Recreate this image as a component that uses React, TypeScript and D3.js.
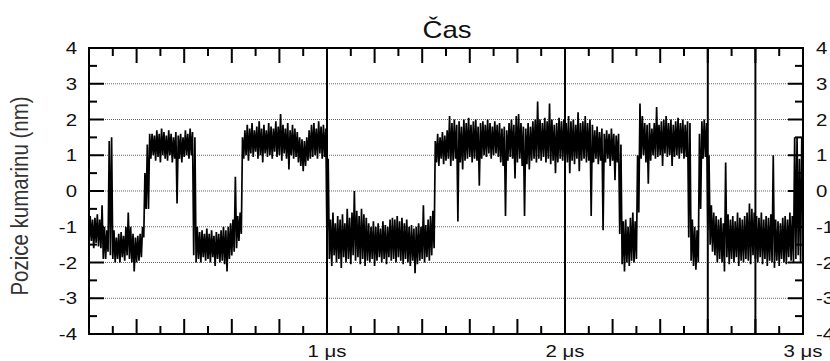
import React from "react";
import * as d3 from "d3";

// time bins (µs), width 0.01 µs; lo/hi = min/max of the position in each bin (nm)
const binStep = 0.01;
const lo = [
  -1.5, -1.4, -1.6, -1.45, -1.55, -1.6, -1.9, -1.9, -1.7, -1.8,
  -1.9, -2.0, -1.9, -2.0, -1.85, -1.95, -1.8, -1.9, -2.0, -2.25,
  -2.0, -1.95, -1.85, -1.3, -0.5, -0.5, 0.9, 1.0, 0.85, 0.95,
  0.8, 1.0, 0.9, 0.85, 1.0, 0.8, 0.9, -0.35, 0.9, 0.8,
  0.95, 1.0, 0.9, 1.0, -1.8, -2.0, -1.9, -2.0, -1.85, -1.95,
  -1.9, -2.0, -1.85, -2.1, -1.9, -2.0, -1.95, -2.05, -2.25, -1.9,
  -1.8, -1.7, -1.6, -1.4, -1.2, 0.9, 1.0, 0.85, 1.05, 0.95,
  1.1, 0.9, 1.0, 0.8, 1.05, 0.95, 1.0, 0.9, 1.1, 0.95,
  1.0, 0.85, 1.05, 0.9, 0.6, 1.0, 0.9, 0.95, 0.8, 0.7,
  0.55, 0.7, 0.85, 0.9, 0.95, 1.0, 0.9, 1.05, 0.9, 0.95,
  -1.5, -1.9, -2.1, -1.8, -2.0, -1.9, -2.15, -1.85, -2.0, -1.9,
  -2.05, -1.8, -1.95, -1.85, -2.05, -1.9, -2.1, -1.95, -2.0, -1.9,
  -2.1, -1.95, -1.85, -2.0, -1.9, -2.05, -1.85, -1.95, -1.9, -2.0,
  -1.85, -1.95, -2.05, -1.9, -2.0, -2.1, -1.95, -2.3, -2.05, -1.95,
  -1.9, -2.0, -1.85, -1.95, -1.8, -1.6, 0.8, 0.7, 0.9, 0.75,
  0.85, 0.9, 0.7, 0.85, 0.9, -0.85, 0.8, 0.6, 0.85, 0.9,
  0.95, 0.8, 0.9, 0.85, 0.15, 0.9, 1.0, 0.95, 1.05, 0.9,
  1.0, 1.05, 0.95, 0.8, 0.7, -0.7, 0.85, 0.95, 0.9, 0.35,
  0.8, 0.9, 0.7, -0.7, 0.75, 0.6, 0.85, 0.9, 0.8, 0.9,
  0.85, 0.95, 0.8, 0.9, 0.75, 0.85, 0.5, 0.8, 0.9, 0.85,
  0.7, 0.8, 0.5, 0.85, 0.75, 0.9, 0.55, 0.85, 0.9, 0.8,
  0.85, -0.7, 0.8, 0.9, 0.75, 0.85, -1.1, 0.8, 0.9, 0.7,
  0.85, 0.3, 0.8, -1.2, -2.05, -2.25, -2.0, -2.1, -1.95, -2.0,
  -1.9, -0.6, 0.9, 1.0, 0.8, 0.2, 0.85, 1.0, 0.9, 0.95,
  1.0, 0.7, 1.05, 0.95, 1.0, 0.7, 0.95, 1.0, 0.9, 1.05,
  0.9, 0.95, -1.3, -1.95, -2.1, -2.2, -2.0, -0.5, 0.9, 0.95,
  -1.1, -1.5, -1.7, -1.8, -2.0, -1.9, -2.0, -2.25, -1.85, -2.05,
  -1.9, -2.0, -1.85, -2.1, -1.95, -2.0, -1.9, -1.95, -2.05, -1.8,
  -1.9, -2.0, -1.85, -2.05, -1.9, -2.1, -1.95, -2.0, -2.15, -1.95,
  -2.1, -1.9, -2.0, -2.05, -1.85, -1.95, -2.0, -1.9, -1.8, -2.0,
];
const hi = [
  -0.7, -0.8, -0.75, -0.65, -0.8, -0.4, -1.0, -1.1, 1.4, 1.5,
  -1.1, -1.3, -1.2, -1.15, -1.25, -1.0, -0.6, -1.0, -1.2, -1.3,
  -1.25, -1.2, -1.0, 0.5, 1.3, 1.6, 1.6, 1.55, 1.7, 1.6,
  1.75, 1.65, 1.55, 1.7, 1.6, 1.5, 1.65, 1.55, 1.6, 1.5,
  1.7, 1.6, 1.75, 1.65, 1.5, -1.0, -1.15, -1.1, -1.2, -1.05,
  -1.2, -1.1, -1.25, -1.15, -1.2, -1.1, -1.0, -1.1, -1.0, -0.9,
  -0.8, 0.4, -0.7, -0.6, 1.5, 1.7, 1.85, 1.75, 1.9, 1.7,
  1.8, 1.95, 1.75, 1.85, 1.7, 1.9, 1.8, 1.75, 1.95, 1.8,
  2.15, 1.85, 1.75, 1.9, 1.7, 1.85, 1.75, 1.65, 1.5, 1.45,
  1.4, 1.5, 1.7, 1.85, 1.9, 1.75, 1.95, 1.8, 1.85, 1.75,
  0.9, -0.8, -0.6, -0.9, -0.7, -0.8, -0.65, -0.9, -0.5, -0.75,
  -0.6, 0.0, -0.55, -0.7, -0.5, -0.65, -0.75, -0.9, -1.0, -0.85,
  -1.0, -0.9, -1.05, -0.85, -0.95, -1.0, -0.8, -0.75, -0.8, -0.7,
  -0.85, -0.75, -0.9, -0.8, -1.0, -0.95, -1.05, -1.0, -0.9, -1.0,
  -0.4, -0.95, -0.8, -0.7, -0.55, 1.4, 1.6, 1.5, 1.65, 1.55,
  1.7, 2.1, 1.9, 2.0, 1.85, 1.95, 1.8, 2.0, 1.9, 2.05,
  1.85, 1.95, 2.0, 1.8, 1.9, 1.95, 1.85, 2.0, 1.9, 1.8,
  1.95, 1.85, 1.9, 1.75, 1.8, 1.7, 1.9, 2.0, 1.85, 2.1,
  2.15, 1.9, 1.8, 1.75, 1.9, 1.8, 1.95, 2.0, 2.5, 2.0,
  1.9, 2.05, 1.95, 2.45, 2.0, 1.85, 1.9, 2.05, 1.95, 2.0,
  1.9, 2.1, 1.95, 2.0, 1.85, 2.2, 1.9, 1.95, 2.1, 1.9,
  2.0, 1.85, 1.7, 1.8, 1.65, 1.75, 1.6, 1.7, 1.6, 1.75,
  1.6, 1.55, 1.6, 1.3, -0.85, -0.8, -1.0, -0.75, -0.6, -0.85,
  1.0, 2.45, 2.1, 1.9, 1.85, 1.9, 1.75, 1.9, 2.35, 1.85,
  1.95, 2.0, 2.1, 1.9, 2.0, 1.85, 1.95, 2.05, 1.9, 2.0,
  1.85, 1.95, 1.9, -0.8, -1.0, -1.1, 1.6, 1.95, 2.0, 1.9,
  1.0, -0.4, -0.6, -0.7, -0.8, -0.75, -0.9, 0.8, -0.65, -0.8,
  -0.7, -0.85, -0.6, -0.75, -0.8, -0.7, -0.6, -0.35, -0.5, -0.6,
  -0.7, -0.75, -0.6, -0.8, -0.7, -0.75, -0.65, 1.0, -0.8, -0.85,
  -0.9, -0.75, -0.7, -0.8, -0.6, -0.7, 1.5, 1.5, 0.9, 1.5,
];

const segmentBreaks = [1, 2, 2.6, 2.8];
const xTickLabels = [
  { t: 1, label: "1 μs" },
  { t: 2, label: "2 μs" },
  { t: 3, label: "3 μs" },
];
const yTickValues = [-4, -3, -2, -1, 0, 1, 2, 3, 4];
const gridValues = [-3, -2, -1, 0, 1, 2, 3];
const titleText = "Čas";
const yLabelText = "Pozice kumarinu (nm)";

const W = 830;
const H = 361;
const left = 89, right = 803, top = 48, bottom = 334;
const SX = 1.2; // the reference's text is horizontally stretched
const FONT = "'Liberation Sans', Arial, Helvetica, sans-serif";

function SText(props: { x: number; y: number; anchor: string; size: number; fill?: string; dy?: string; children: any }) {
  return (
    <g transform={`translate(${props.x},${props.y}) scale(${SX},1)`}>
      <text
        x={0}
        y={0}
        dy={props.dy}
        textAnchor={props.anchor as any}
        fontFamily={FONT}
        fontSize={props.size}
        fill={props.fill || "#111"}
      >
        {props.children}
      </text>
    </g>
  );
}

export default function App() {
  const x = d3.scaleLinear().domain([0, 3]).range([left, right]);
  const y = d3.scaleLinear().domain([-4, 4]).range([bottom, top]);

  const pts: [number, number][] = [];
  lo.forEach((l, i) => {
    const t = i * binStep;
    pts.push([t, l]);
    pts.push([t + binStep / 2, hi[i]]);
  });
  const line = d3
    .line<[number, number]>()
    .x((d) => x(d[0]))
    .y((d) => y(d[1]));

  const xTicks = d3.range(1, 30).map((i) => ({ t: i / 10, major: i % 2 === 0 }));
  const yTicks = d3.range(-7, 8).map((i) => ({ v: i / 2, major: i % 2 === 0 }));

  return (
    <svg width={W} height={H} style={{ position: "absolute", left: 0, top: 0, background: "#fff" }}>
      <defs>
        <clipPath id="plotclip">
          <rect x={left} y={top} width={right - left} height={bottom - top} />
        </clipPath>
      </defs>
      <rect x={0} y={0} width={W} height={H} fill="#fff" />
      {gridValues.map((v) => (
        <line key={"g" + v} x1={left} x2={right} y1={y(v)} y2={y(v)} stroke="#666" strokeWidth={1} strokeDasharray="1,1" />
      ))}
      <g clipPath="url(#plotclip)">
        <path d={line(pts) || ""} fill="none" stroke="#000" strokeWidth={1.7} strokeLinejoin="miter" strokeMiterlimit={2} />
      </g>
      {segmentBreaks.map((t) => (
        <line key={"s" + t} x1={x(t)} x2={x(t)} y1={top} y2={bottom} stroke="#000" strokeWidth={2} />
      ))}
      {xTicks.map((d) => (
        <g key={"xt" + d.t}>
          <line x1={x(d.t)} x2={x(d.t)} y1={bottom} y2={bottom - (d.major ? 15 : 8)} stroke="#000" strokeWidth={2} />
          <line x1={x(d.t)} x2={x(d.t)} y1={top} y2={top + (d.major ? 15 : 8)} stroke="#000" strokeWidth={2} />
        </g>
      ))}
      {yTicks.map((d) => (
        <g key={"yt" + d.v}>
          <line x1={left} x2={left + (d.major ? 15 : 8)} y1={y(d.v)} y2={y(d.v)} stroke="#000" strokeWidth={2} />
          <line x1={right} x2={right - (d.major ? 15 : 8)} y1={y(d.v)} y2={y(d.v)} stroke="#000" strokeWidth={2} />
        </g>
      ))}
      <rect x={left} y={top} width={right - left} height={bottom - top} fill="none" stroke="#000" strokeWidth={2} />
      {yTickValues.map((v) => (
        <g key={"yl" + v}>
          <SText x={77} y={y(v)} dy="0.36em" anchor="end" size={17}>{v}</SText>
          <SText x={816} y={y(v)} dy="0.36em" anchor="start" size={17}>{v}</SText>
        </g>
      ))}
      {xTickLabels.map((d) => (
        <SText key={"xl" + d.t} x={x(d.t)} y={357} anchor="middle" size={17}>
          {d.label}
        </SText>
      ))}
      <SText x={447} y={38} anchor="middle" size={23}>
        {titleText}
      </SText>
      <g transform={`translate(28,196) scale(${SX},1) rotate(-90)`}>
        <text x={0} y={0} textAnchor="middle" fontFamily={FONT} fontSize={20.5} fill="#333">
          {yLabelText}
        </text>
      </g>
    </svg>
  );
}
